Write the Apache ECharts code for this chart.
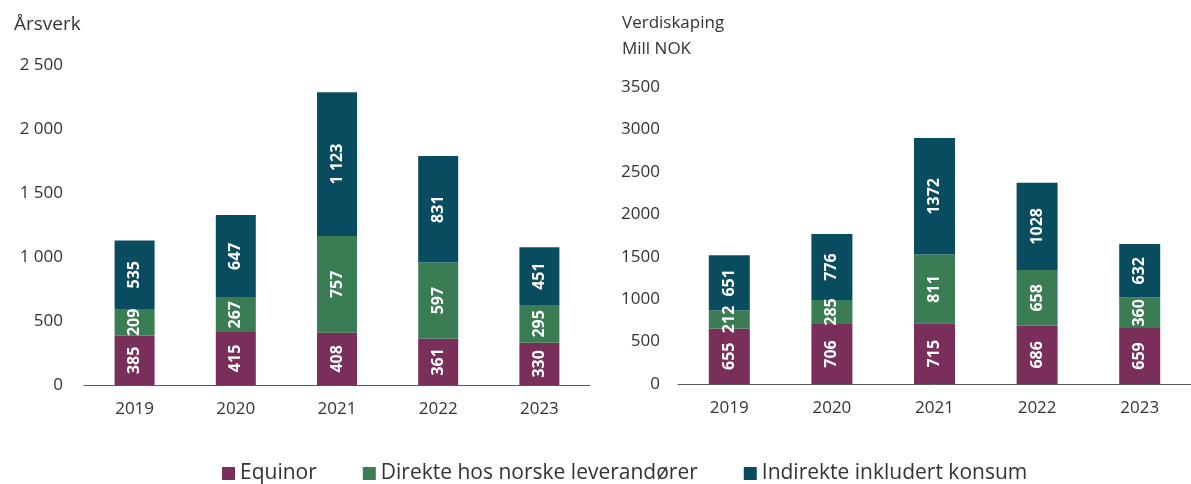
<!DOCTYPE html>
<html>
<head>
<meta charset="utf-8">
<script src="https://cdn.jsdelivr.net/npm/echarts@6/dist/echarts.min.js"></script>
<style>
  html, body { margin: 0; padding: 0; background: #fff; }
  #chart { width: 1191px; height: 484px; }
</style>
</head>
<body>
<div id="chart"></div>
<script>
const years = ['2019', '2020', '2021', '2022', '2023'];

// Årsverk (FTE)
const fteEquinor = [385, 415, 408, 361, 330];
const fteDirekte = [209, 267, 757, 597, 295];
const fteIndirekte = [535, 647, 1123, 831, 451];

// Verdiskaping, Mill NOK
const valEquinor = [655, 706, 715, 686, 659];
const valDirekte = [212, 285, 811, 658, 360];
const valIndirekte = [651, 776, 1372, 1028, 632];

const seriesNames = ['Equinor', 'Direkte hos norske leverandører', 'Indirekte inkludert konsum'];
const colors = ['#7A2E5A', '#3A7C53', '#0A4C5F'];

const FONT = '"Open Sans", sans-serif';
const TEXT = '#333333';

// thousands separated by a space, e.g. 2 500
function spaced(v) {
  return String(v).replace(/\B(?=(\d{3})+(?!\d))/g, ' ');
}
function plain(v) {
  return String(v);
}

function barSeries(name, data, axisIndex, color, width, fmt) {
  return {
    name: name,
    type: 'bar',
    stack: 'stack' + axisIndex,
    xAxisIndex: axisIndex,
    yAxisIndex: axisIndex,
    barWidth: width,
    data: data,
    itemStyle: { color: color },
    label: {
      show: true,
      position: 'inside',
      rotate: 90,
      color: '#ffffff',
      fontFamily: FONT,
      fontWeight: 'bold',
      fontSize: 16,
      formatter: p => fmt(p.value)
    }
  };
}

const axisLine = { show: true, lineStyle: { color: '#595959', width: 1 } };

const chart = echarts.init(document.getElementById('chart'));
chart.setOption({
  animation: false,
  color: colors,
  textStyle: { fontFamily: FONT },
  title: [
    { text: 'Årsverk', left: 9, top: 10,
      textStyle: { fontFamily: FONT, fontSize: 19, fontWeight: 'normal', color: TEXT } },
    { text: 'Verdiskaping\nMill NOK', left: 617, top: 5,
      textStyle: { fontFamily: FONT, fontSize: 17, fontWeight: 'normal', color: TEXT, lineHeight: 26 } }
  ],
  legend: {
    data: seriesNames,
    top: 458,
    left: 217,
    itemWidth: 13,
    itemHeight: 13,
    itemGap: 46,
    icon: 'rect',
    textStyle: { fontFamily: FONT, fontSize: 21, color: TEXT }
  },
  grid: [
    { left: 84, top: 65, width: 506, height: 320 },
    { left: 678, top: 87, width: 524, height: 297 }
  ],
  xAxis: [0, 1].map(i => ({
    type: 'category',
    gridIndex: i,
    data: years,
    axisLine: axisLine,
    axisTick: { show: false },
    axisLabel: { margin: 16, fontFamily: FONT, fontSize: 17, color: TEXT }
  })),
  yAxis: [
    { type: 'value', gridIndex: 0, min: 0, max: 2500, interval: 500,
      splitLine: { show: false }, axisLine: { show: false }, axisTick: { show: false },
      axisLabel: { margin: 21, fontFamily: FONT, fontSize: 17, color: TEXT, formatter: spaced } },
    { type: 'value', gridIndex: 1, min: 0, max: 3500, interval: 500,
      splitLine: { show: false }, axisLine: { show: false }, axisTick: { show: false },
      axisLabel: { margin: 18, fontFamily: FONT, fontSize: 17, color: TEXT, formatter: plain } }
  ],
  series: [
    barSeries(seriesNames[0], fteEquinor, 0, colors[0], 40, spaced),
    barSeries(seriesNames[1], fteDirekte, 0, colors[1], 40, spaced),
    barSeries(seriesNames[2], fteIndirekte, 0, colors[2], 40, spaced),
    barSeries(seriesNames[0], valEquinor, 1, colors[0], 41, plain),
    barSeries(seriesNames[1], valDirekte, 1, colors[1], 41, plain),
    barSeries(seriesNames[2], valIndirekte, 1, colors[2], 41, plain)
  ]
});
</script>
</body>
</html>
